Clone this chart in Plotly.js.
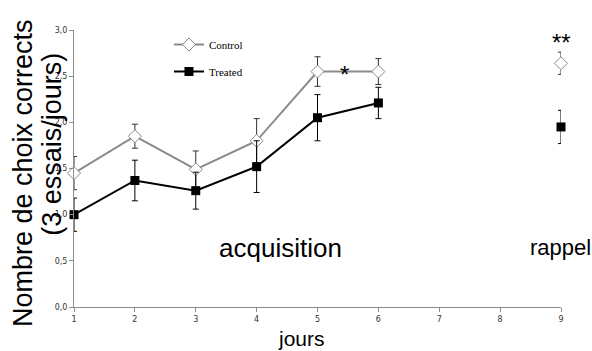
<!DOCTYPE html>
<html><head><meta charset="utf-8">
<script src="https://cdn.plot.ly/plotly-3.0.1.min.js"></script>
<style>body{margin:0;padding:0;background:#fff}#chart{width:592px;height:351px}</style>
</head><body><div id="chart"></div>
<script>
const days = [1, 2, 3, 4, 5, 6, 7, 8, 9];
const controlMean = [1.45, 1.85, 1.49, 1.80, 2.55, 2.55, null, null, 2.64];
const controlErr  = [0.18, 0.13, 0.20, 0.24, 0.16, 0.14, null, null, 0.12];
const treatedMean = [1.00, 1.37, 1.26, 1.52, 2.05, 2.21, null, null, 1.95];
const treatedErr  = [0.18, 0.22, 0.20, 0.28, 0.25, 0.17, null, null, 0.18];
const yTicks = [0, 0.5, 1, 1.5, 2, 2.5, 3];
const xTicks = [1, 2, 3, 4, 5, 6, 7, 8, 9];
const yTitleLines = ['Nombre de choix corrects', '(3 essais/jours)'];
const xTitle = 'jours';

const traces = [
  {
    x: days, y: controlMean, name: 'Control', type: 'scatter', mode: 'lines+markers',
    connectgaps: false, legendgroup: 'c', cliponaxis: false,
    line: {color: '#8a8a8a', width: 2},
    marker: {symbol: 'diamond', size: 10, color: '#ffffff', line: {color: '#8a8a8a', width: 1}},
    error_y: {type: 'data', array: controlErr, visible: true, color: '#333333', thickness: 1, width: 3}
  },
  {
    x: days, y: treatedMean, name: 'Treated', type: 'scatter', mode: 'lines+markers',
    connectgaps: false, legendgroup: 't', cliponaxis: false,
    line: {color: '#000000', width: 2},
    marker: {symbol: 'square', size: 9, color: '#000000'},
    error_y: {type: 'data', array: treatedErr, visible: true, color: '#000000', thickness: 1, width: 3}
  }
];

const sans = 'Liberation Sans, Arial, sans-serif';
const layout = {
  width: 592, height: 351,
  margin: {l: 74, r: 31, t: 30, b: 44, pad: 0},
  paper_bgcolor: '#ffffff', plot_bgcolor: '#ffffff',
  separators: ', ',
  showlegend: true,
  legend: {x: 0.195, y: 1.0, xanchor: 'left', yanchor: 'top', bgcolor: 'rgba(0,0,0,0)',
           font: {family: 'Liberation Serif, Times New Roman, serif', size: 11, color: '#000'},
           traceorder: 'grouped', tracegroupgap: 8, itemwidth: 30},
  xaxis: {
    range: [1, 9], tickvals: xTicks, ticktext: xTicks.map(String),
    showgrid: false, zeroline: false, showline: true, linecolor: '#8c8c8c', linewidth: 1,
    ticks: 'outside', ticklen: 4, tickcolor: '#8c8c8c',
    tickfont: {family: 'DejaVu Sans, sans-serif', size: 8, color: '#333'}
  },
  yaxis: {
    range: [0, 3], tickvals: yTicks, tickformat: '.1f',
    showgrid: false, zeroline: false, showline: true, linecolor: '#8c8c8c', linewidth: 1,
    ticks: 'outside', ticklen: 4, tickcolor: '#8c8c8c',
    tickfont: {family: 'DejaVu Sans, sans-serif', size: 8, color: '#333'}
  },
  annotations: [
    {x: -0.105, y: 0.483, xref: 'paper', yref: 'paper', text: yTitleLines[0], textangle: -90,
     showarrow: false, xanchor: 'center', yanchor: 'middle', font: {family: sans, size: 27, color: '#000'}},
    {x: -0.045, y: 0.586, xref: 'paper', yref: 'paper', text: yTitleLines[1], textangle: -90,
     showarrow: false, xanchor: 'center', yanchor: 'middle', font: {family: sans, size: 27, color: '#000'}},
    {x: 0.468, y: -0.112, xref: 'paper', yref: 'paper', text: xTitle, showarrow: false,
     xanchor: 'center', yanchor: 'middle', font: {family: sans, size: 21, color: '#000'}},
    {x: 4.4, y: 0.64, xref: 'x', yref: 'y', text: 'acquisition', showarrow: false,
     font: {family: sans, size: 26, color: '#000'}},
    {x: 8.45, y: 0.64, xref: 'x', yref: 'y', text: 'rappel', showarrow: false, xanchor: 'left',
     font: {family: sans, size: 22, color: '#000'}},
    {x: 5.45, y: 2.52, xref: 'x', yref: 'y', text: '*', showarrow: false,
     font: {family: sans, size: 24, color: '#000'}},
    {x: 9, y: 2.86, xref: 'x', yref: 'y', text: '**', showarrow: false,
     font: {family: sans, size: 24, color: '#000'}}
  ]
};

Plotly.newPlot('chart', traces, layout, {displayModeBar: false, staticPlot: true});
</script>
</body></html>
